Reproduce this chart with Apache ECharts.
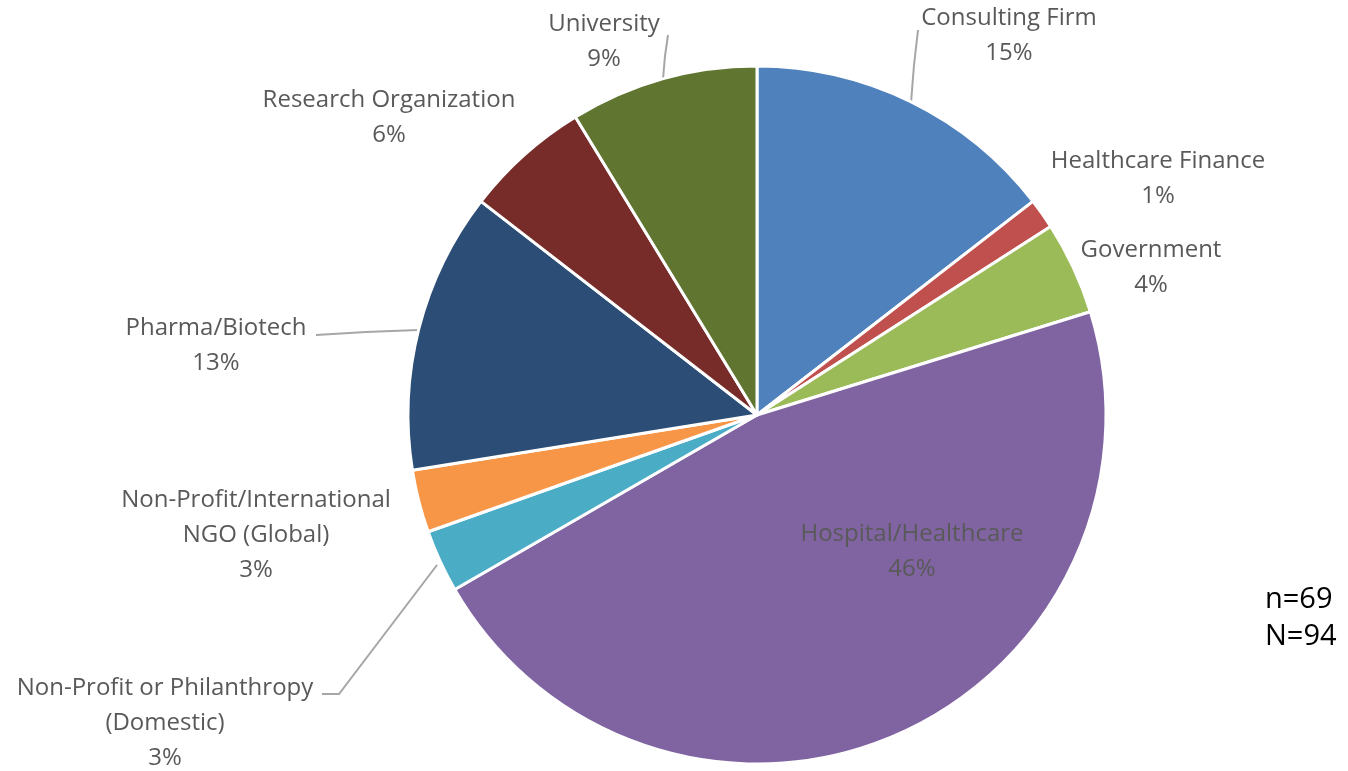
<!DOCTYPE html>
<html><head><meta charset="utf-8">
<script src="https://cdn.jsdelivr.net/npm/echarts@6/dist/echarts.min.js"></script>
<style>html,body{margin:0;padding:0;background:#fff}#c{width:1348px;height:771px}</style>
</head><body><div id="c"></div>
<script>
const categories = ['Consulting Firm','Healthcare Finance','Government','Hospital/Healthcare','Non-Profit or Philanthropy\n(Domestic)','Non-Profit/International\nNGO (Global)','Pharma/Biotech','Research Organization','University'];
const shares = [14.5, 1.4, 4.3, 46.4, 2.9, 2.9, 13.0, 5.8, 8.7];
const colors = ['#4F81BD','#C0504D','#9BBB59','#8064A2','#4BACC6','#F79646','#2C4D75','#772C2A','#5F7530'];
const noteLines = ['n=69','N=94'];

// label centres and leader lines (layout)
const labelPos = [[1009,36],[1158,179],[1151,268],[912,552],[165,723],[256,535],[216,346],[389,118],[604,42]];
const leader = {
  0: [[911,103],[914,65],[918,30]],
  4: [[437,565],[339,694],[322,694]],
  6: [[418,330],[366,332],[316,335]],
  8: [[663,79],[665,56],[668,35]]
};

const chart = echarts.init(document.getElementById('c'));
chart.setOption({
  animation:false,
  series:[{
    type:'pie',
    center:[757,415],
    radius:349,
    startAngle:90,
    clockwise:true,
    avoidLabelOverlap:false,
    itemStyle:{borderColor:'#fff',borderWidth:3},
    label:{
      show:true, position:'outside',
      fontFamily:'Open Sans', fontSize:24, color:'#595959', lineHeight:35,
      align:'center',
      formatter: p => p.name + '\n' + Math.round(p.percent) + '%'
    },
    labelLine:{show:true, lineStyle:{color:'#A6A6A6', width:2}},
    labelLayout: function(params){
      const i = params.dataIndex;
      const o = {x:labelPos[i][0], y:labelPos[i][1], align:'center', verticalAlign:'middle'};
      if (leader[i]) o.labelLinePoints = leader[i];
      return o;
    },
    data: categories.map((c,i)=>({
      name:c, value:shares[i], itemStyle:{color:colors[i]},
      labelLine:{show: !!leader[i]}
    }))
  }],
  graphic:[{
    type:'text', left:1265, top:581,
    style:{text:noteLines.join('\n'), fontFamily:'Open Sans', fontSize:29, lineHeight:37, fill:'#000'}
  }]
});
</script></body></html>
